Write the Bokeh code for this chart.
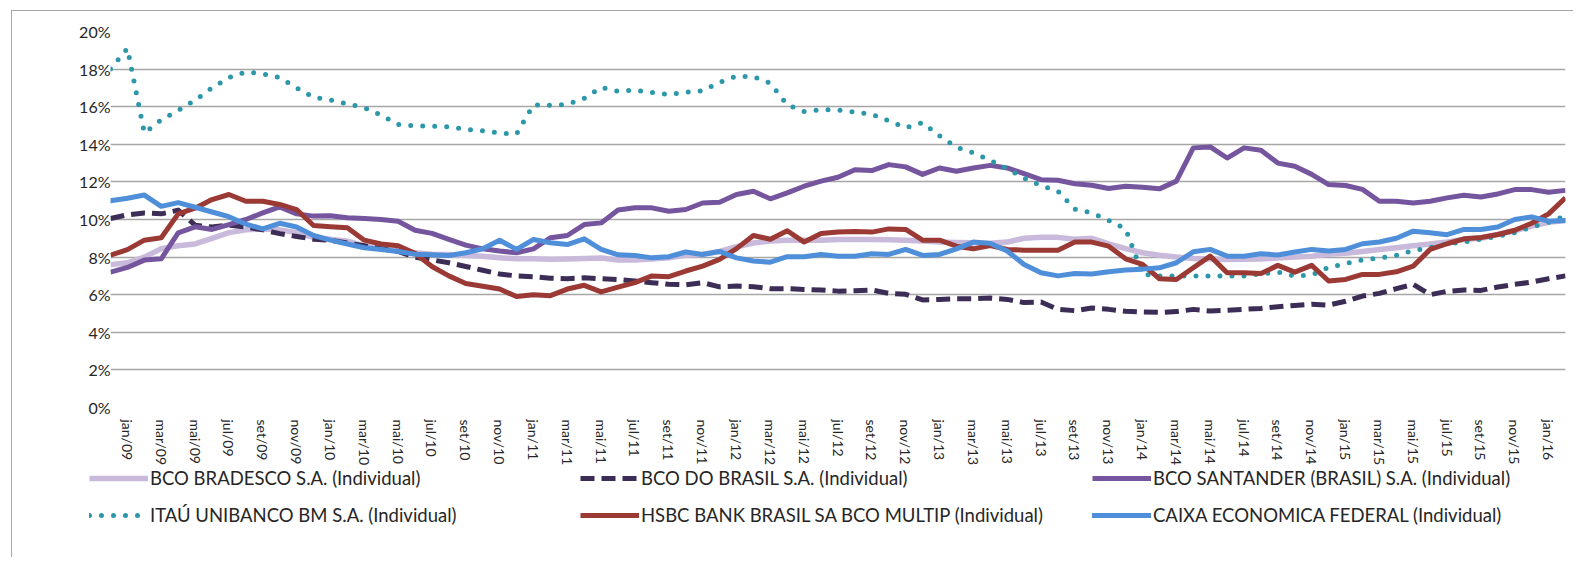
import numpy as np
from bokeh.plotting import figure
from bokeh.models import Range1d, FixedTicker, Legend, LegendItem
from bokeh.layouts import column, row
from bokeh.embed import file_html
from bokeh.resources import INLINE

# months from dez/08 (index -1) to fev/16 (index 85)
x_tick_labels = [
    "jan/09", "mar/09", "mai/09", "jul/09", "set/09", "nov/09",
    "jan/10", "mar/10", "mai/10", "jul/10", "set/10", "nov/10",
    "jan/11", "mar/11", "mai/11", "jul/11", "set/11", "nov/11",
    "jan/12", "mar/12", "mai/12", "jul/12", "set/12", "nov/12",
    "jan/13", "mar/13", "mai/13", "jul/13", "set/13", "nov/13",
    "jan/14", "mar/14", "mai/14", "jul/14", "set/14", "nov/14",
    "jan/15", "mar/15", "mai/15", "jul/15", "set/15", "nov/15",
    "jan/16",
]
y_tick_labels = ["0%", "2%", "4%", "6%", "8%", "10%", "12%", "14%", "16%", "18%", "20%"]

bradesco = [
    7.6, 7.7, 8.0, 8.45, 8.6, 8.7, 9.0, 9.3, 9.45, 9.5, 9.45, 9.3, 9.05,
    8.95, 8.85, 8.6, 8.45, 8.32, 8.23, 8.15, 8.14, 8.09, 8.05, 7.96, 7.91, 7.91,
    7.88, 7.9, 7.92, 7.95, 7.85, 7.85, 7.9, 7.97, 8.1, 8.15, 8.3, 8.55, 8.75,
    8.85, 8.9, 8.9, 8.9, 8.94, 8.94, 8.94, 8.92, 8.9, 8.85, 8.8, 8.78, 8.76,
    8.74, 8.8, 9.0, 9.05, 9.05, 8.95, 9.0, 8.7, 8.45, 8.23, 8.1, 8.0, 7.93,
    7.9, 7.87, 7.88, 7.9, 7.95, 8.0, 8.05, 8.15, 8.2, 8.3, 8.4, 8.5, 8.6,
    8.7, 8.8, 8.95, 9.0, 9.2, 9.4, 9.65, 9.85, 9.95,
]
brasil = [
    10.05, 10.25, 10.35, 10.3, 10.5, 9.7, 9.6, 9.7, 9.6, 9.45, 9.25, 9.1, 8.95,
    8.9, 8.75, 8.6, 8.45, 8.3, 8.0, 7.85, 7.7, 7.5, 7.3, 7.1, 7.0, 6.95,
    6.88, 6.85, 6.9, 6.85, 6.81, 6.73, 6.64, 6.55, 6.53, 6.64, 6.42, 6.46, 6.42,
    6.32, 6.32, 6.28, 6.25, 6.19, 6.21, 6.25, 6.07, 6.02, 5.72, 5.75, 5.79, 5.79,
    5.82, 5.75, 5.58, 5.61, 5.22, 5.15, 5.29, 5.22, 5.12, 5.08, 5.06, 5.1, 5.22,
    5.13, 5.17, 5.22, 5.27, 5.36, 5.43, 5.49, 5.45, 5.65, 5.93, 6.07, 6.32, 6.55,
    6.0, 6.18, 6.25, 6.23, 6.41, 6.55, 6.67, 6.85, 7.0,
]
santander = [
    7.2, 7.45, 7.84, 7.91, 9.29, 9.61, 9.47, 9.73, 10.0, 10.35, 10.67, 10.3, 10.18,
    10.2, 10.09, 10.05, 10.0, 9.91, 9.43, 9.26, 8.94, 8.64, 8.44, 8.32, 8.23, 8.44,
    9.03, 9.15, 9.73, 9.82, 10.5, 10.62, 10.62, 10.44, 10.53, 10.88, 10.92, 11.33, 11.5,
    11.1, 11.42, 11.77, 12.04, 12.25, 12.65, 12.6, 12.92, 12.8, 12.4, 12.74, 12.57, 12.74,
    12.88, 12.74, 12.44, 12.12, 12.09, 11.9, 11.82, 11.65, 11.77, 11.72, 11.63, 12.04, 13.81,
    13.86, 13.27, 13.81, 13.68, 13.0, 12.83, 12.4, 11.86, 11.81, 11.6, 10.97, 10.97, 10.88,
    10.97, 11.15, 11.29, 11.2, 11.36, 11.59, 11.59, 11.45, 11.55,
]
itau = [
    18.0, 19.1, 14.6, 15.3, 15.8, 16.35, 17.0, 17.55, 17.85, 17.75, 17.55, 17.0, 16.5,
    16.35, 16.15, 15.95, 15.55, 15.05, 14.98, 14.96, 14.93, 14.8, 14.72, 14.6, 14.55, 16.1,
    16.07, 16.12, 16.45, 17.03, 16.82, 16.88, 16.76, 16.65, 16.77, 16.85, 17.3, 17.62, 17.6,
    17.25, 16.1, 15.75, 15.84, 15.82, 15.72, 15.6, 15.25, 14.88, 15.15, 14.45, 13.85, 13.55,
    13.15, 12.7, 12.2, 11.8, 11.5, 10.55, 10.35, 9.95, 9.5, 7.1, 7.0, 7.0, 7.0,
    7.0, 7.0, 7.0, 7.1, 7.2, 7.0, 7.05, 7.45, 7.65, 7.85, 7.95, 8.1, 8.35,
    8.5, 8.7, 8.8, 8.95, 9.1, 9.3, 9.6, 9.85, 10.2,
]
hsbc = [
    8.1, 8.4, 8.9, 9.03, 10.3, 10.6, 11.06, 11.33, 10.97, 10.97, 10.8, 10.53, 9.68,
    9.62, 9.56, 8.9, 8.7, 8.6, 8.2, 7.5, 7.0, 6.6, 6.45, 6.3, 5.9, 6.0,
    5.95, 6.3, 6.5, 6.15, 6.4, 6.64, 7.0, 6.96, 7.26, 7.52, 7.88, 8.45, 9.15,
    8.95, 9.4, 8.8, 9.25, 9.33, 9.36, 9.33, 9.5, 9.47, 8.9, 8.9, 8.58, 8.44,
    8.62, 8.41, 8.37, 8.37, 8.37, 8.8, 8.8, 8.58, 7.91, 7.61, 6.85, 6.81, 7.43,
    8.05, 7.17, 7.17, 7.13, 7.56, 7.2, 7.56, 6.73, 6.81, 7.08, 7.08, 7.22, 7.52,
    8.41, 8.71, 8.97, 9.04, 9.2, 9.43, 9.8, 10.3, 11.15,
]
caixa = [
    11.0, 11.13, 11.3, 10.7, 10.9, 10.65, 10.4, 10.15, 9.75, 9.5, 9.8, 9.6, 9.15,
    8.9, 8.7, 8.5, 8.4, 8.3, 8.15, 8.12, 8.09, 8.23, 8.44, 8.9, 8.41, 8.94,
    8.76, 8.67, 8.97, 8.41, 8.12, 8.09, 7.96, 8.02, 8.27, 8.14, 8.3, 7.96, 7.79,
    7.73, 8.02, 8.02, 8.14, 8.04, 8.05, 8.18, 8.14, 8.41, 8.09, 8.14, 8.44, 8.8,
    8.73, 8.32, 7.61, 7.17, 7.0, 7.13, 7.1, 7.22, 7.31, 7.36, 7.43, 7.7, 8.28,
    8.41, 8.05, 8.05, 8.18, 8.11, 8.27, 8.41, 8.32, 8.41, 8.71, 8.8, 9.0, 9.38,
    9.29, 9.19, 9.47, 9.47, 9.6, 10.0, 10.14, 9.91, 9.95,
]

names = [
    "BCO BRADESCO S.A. (Individual)",
    "BCO DO BRASIL S.A. (Individual)",
    "BCO SANTANDER (BRASIL) S.A. (Individual)",
    "ITAÚ UNIBANCO BM S.A. (Individual)",
    "HSBC BANK BRASIL SA BCO MULTIP (Individual)",
    "CAIXA ECONOMICA FEDERAL (Individual)",
]

x = np.arange(-1, 86)
series = (bradesco, brasil, santander, itau, hsbc, caixa)
for s in series:
    assert len(s) == len(x), len(s)

FONT = "Lato"
TXT = "#262626"
W = 1561
H1 = 457

p = figure(width=W, height=H1, output_backend="svg", toolbar_location=None,
           x_range=Range1d(-1, 85), y_range=Range1d(0, 20),
           min_border_left=98, min_border_right=8, min_border_top=20,
           min_border_bottom=61)
p.outline_line_color = None
p.background_fill_color = "white"
p.border_fill_color = "white"

p.xgrid.grid_line_color = None
p.ygrid.grid_line_color = "#a6a6a6"
p.ygrid.grid_line_width = 1.5

p.yaxis.ticker = FixedTicker(ticks=list(range(0, 21, 2)))
p.yaxis.major_label_overrides = {i * 2: lab for i, lab in enumerate(y_tick_labels)}
p.xaxis.ticker = FixedTicker(ticks=list(range(0, 85, 2)))
p.xaxis.major_label_overrides = {i * 2: lab for i, lab in enumerate(x_tick_labels)}
p.xaxis.major_label_orientation = "vertical"

for ax in (p.xaxis[0], p.yaxis[0]):
    ax.axis_line_color = None
    ax.major_tick_line_color = None
    ax.minor_tick_line_color = None
    ax.major_tick_out = 0
    ax.major_tick_in = 0
    ax.minor_tick_out = 0
    ax.minor_tick_in = 0
    ax.major_label_text_color = TXT
    ax.major_label_text_font = FONT
p.yaxis.major_label_text_font_size = "16px"
p.xaxis.major_label_text_font_size = "14px"
p.yaxis.major_label_standoff = 0
p.xaxis.major_label_standoff = 12

styles = [
    dict(color="#c9badc", width=5.5, dash="solid", cap="butt"),
    dict(color="#3b2d55", width=5, dash="14 7", cap="butt"),
    dict(color="#74559e", width=5, dash="solid", cap="butt"),
    dict(color="#2d97aa", width=5, dash="0 12", cap="round"),
    dict(color="#9b3934", width=5, dash="solid", cap="butt"),
    dict(color="#4f8fd9", width=5, dash="solid", cap="round"),
]
for data, st in zip(series, styles):
    p.line(x, data, line_color=st["color"], line_width=st["width"],
           line_dash=st["dash"], line_cap=st["cap"], line_join="round")

# legend panel below the chart
H2 = 557 - 11 - H1
p2 = figure(width=W, height=H2, output_backend="svg", toolbar_location=None,
            x_range=Range1d(0, 1), y_range=Range1d(0, 1),
            x_axis_location=None, y_axis_location=None,
            min_border_left=0, min_border_right=0, min_border_top=0, min_border_bottom=0)
p2.grid.visible = False
p2.outline_line_color = None
p2.background_fill_color = "white"
p2.border_fill_color = "white"

keys = []
for st in styles:
    r = p2.line([np.nan, np.nan], [np.nan, np.nan], line_color=st["color"],
                line_width=st["width"], line_dash=st["dash"], line_cap=st["cap"])
    keys.append(r)

col_x = [77, 568, 1080]
for c in range(3):
    items = [LegendItem(label=names[c], renderers=[keys[c]]),
             LegendItem(label=names[c + 3], renderers=[keys[c + 3]])]
    lg = Legend(items=items, location=(col_x[c], H2 - 58), orientation="vertical",
                glyph_width=59, glyph_height=20, label_height=20, spacing=15,
                label_standoff=2, padding=0, margin=0,
                border_line_color=None, background_fill_alpha=0,
                label_text_font=FONT, label_text_font_size="18.5px",
                label_text_color=TXT)
    p2.add_layout(lg)

lay = column(p, row(p2), margin=(10, 0, 0, 11), spacing=0,
             styles={"border-left": "1px solid #a6a6a6", "border-top": "1px solid #a6a6a6"})

open("out.html", "w").write(file_html(lay, INLINE))
